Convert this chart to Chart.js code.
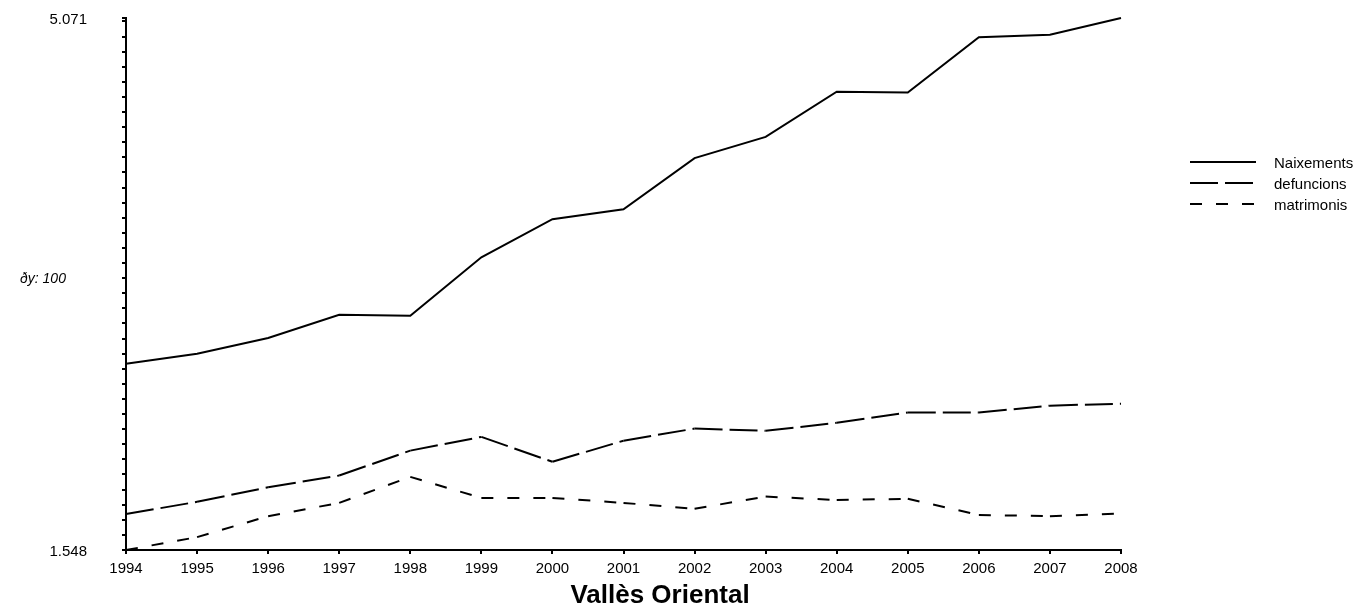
<!DOCTYPE html>
<html>
<head>
<meta charset="utf-8">
<script src="https://cdn.jsdelivr.net/npm/chart.js@4"></script>
<style>
  html, body { margin: 0; padding: 0; background: #fff; }
  #wrap { width: 1358px; height: 610px; }
</style>
</head>
<body>
<div id="wrap"><canvas id="chart" width="1358" height="610"></canvas></div>
<script>
// Data
const years = ['1994', '1995', '1996', '1997', '1998', '1999', '2000', '2001',
               '2002', '2003', '2004', '2005', '2006', '2007', '2008'];
const naixements = [2782, 2848, 2952, 3106, 3099, 3486, 3739, 3804, 4143, 4284, 4583, 4577, 4943, 4960, 5071];
const defuncions = [1786, 1867, 1963, 2041, 2206, 2297, 2132, 2272, 2352, 2337, 2390, 2458, 2458, 2504, 2517];
const matrimonis = [1548, 1633, 1772, 1860, 2032, 1893, 1893, 1860, 1821, 1902, 1879, 1887, 1780, 1772, 1789];

// Y axis: only min and max are labelled, minor ticks every 100 from the min
const yMin = 1548;
const yMax = 5071;
const yStep = 100;
const yAxisNote = 'ðy: 100';
const chartTitle = 'Vallès Oriental';

const FONT = "'Liberation Sans', Arial, sans-serif";
Chart.defaults.font.family = FONT;
Chart.defaults.color = '#000';

// thousands separator with a dot
function fmt(v) {
    return String(v).replace(/\B(?=(\d{3})+(?!\d))/g, '.');
}

// restart the dash pattern at every data point
function dashedSegment(dash) {
    return {
        borderDash: () => dash,
        borderDashOffset: c => c.p0DataIndex * 0.001
    };
}

// Legend, y note and bottom title drawn on the canvas
const extrasPlugin = {
    id: 'extras',
    afterDraw(chart) {
        const ctx = chart.ctx;
        ctx.save();
        chart.data.datasets.forEach((ds, i) => {
            const y = 162 + i * 21;
            ctx.beginPath();
            ctx.strokeStyle = ds.borderColor;
            ctx.lineWidth = ds.borderWidth;
            ctx.setLineDash(ds.borderDash || []);
            ctx.moveTo(1190, y);
            ctx.lineTo(1256, y);
            ctx.stroke();
            ctx.setLineDash([]);
            ctx.fillStyle = '#000';
            ctx.font = '15px ' + FONT;
            ctx.textBaseline = 'middle';
            ctx.textAlign = 'left';
            ctx.fillText(ds.label, 1274, y + 2);
        });

        ctx.font = 'italic 14px ' + FONT;
        ctx.textBaseline = 'alphabetic';
        ctx.textAlign = 'left';
        ctx.fillText(yAxisNote, 20, 283);

        ctx.font = 'bold 26px ' + FONT;
        ctx.textAlign = 'center';
        ctx.fillText(chartTitle, 660, 603);
        ctx.restore();
    }
};

const ctx = document.getElementById('chart').getContext('2d');

new Chart(ctx, {
    type: 'line',
    data: {
        labels: years,
        datasets: [
            {
                label: 'Naixements',
                data: naixements,
                borderColor: '#000',
                borderWidth: 2,
                pointRadius: 0,
                tension: 0,
                clip: 4
            },
            {
                label: 'defuncions',
                data: defuncions,
                borderColor: '#000',
                borderWidth: 2,
                borderDash: [28, 7],
                segment: dashedSegment([28, 7]),
                pointRadius: 0,
                tension: 0,
                clip: 4
            },
            {
                label: 'matrimonis',
                data: matrimonis,
                borderColor: '#000',
                borderWidth: 2,
                borderDash: [12, 14],
                segment: dashedSegment([12, 14]),
                pointRadius: 0,
                tension: 0,
                clip: 4
            }
        ]
    },
    options: {
        responsive: false,
        animation: false,
        devicePixelRatio: 1,
        layout: {
            padding: { left: 0, right: 237, top: 18, bottom: 0 }
        },
        plugins: {
            legend: { display: false },
            tooltip: { enabled: false }
        },
        scales: {
            x: {
                type: 'category',
                offset: false,
                grid: {
                    drawOnChartArea: false,
                    drawTicks: true,
                    tickLength: 4,
                    color: '#000',
                    lineWidth: 2
                },
                border: { color: '#000', width: 2 },
                ticks: {
                    font: { size: 15 },
                    padding: 6,
                    maxRotation: 0,
                    autoSkip: false
                },
                afterFit: scale => { scale.height = 60; }
            },
            y: {
                type: 'linear',
                min: yMin,
                max: yMax,
                grid: {
                    drawOnChartArea: false,
                    drawTicks: true,
                    tickLength: 4,
                    color: '#000',
                    lineWidth: 2
                },
                border: { color: '#000', width: 2 },
                ticks: {
                    font: { size: 15 },
                    padding: 35,
                    autoSkip: false,
                    labelOffset: 2,
                    callback: value => (value === yMin || value === yMax) ? fmt(value) : ''
                },
                afterBuildTicks: scale => {
                    const ticks = [];
                    for (let v = yMin; v < yMax; v += yStep) ticks.push({ value: v });
                    ticks.push({ value: yMax });
                    scale.ticks = ticks;
                },
                afterFit: scale => {
                    scale.width = 126;
                    // the big label padding should not push the plot down
                    scale.paddingTop = 0;
                    scale.paddingBottom = 0;
                }
            }
        }
    },
    plugins: [extrasPlugin]
});
</script>
</body>
</html>
